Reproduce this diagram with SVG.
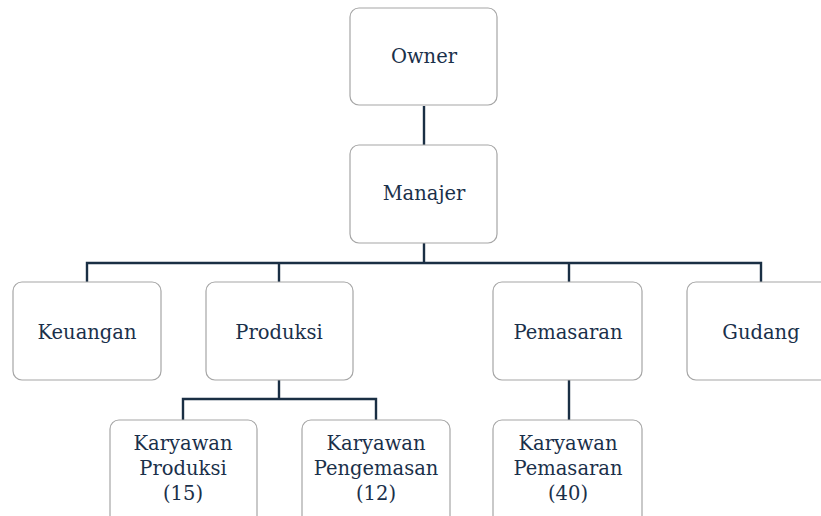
<svg xmlns="http://www.w3.org/2000/svg" width="821" height="516" viewBox="0 0 821 516">
<style>
.box{fill:#fff;stroke:#a6a6a6;stroke-width:1.2}
.t{font-family:'DejaVu Serif',serif;font-size:19.5px;fill:#1a304a;text-anchor:middle}
.c{fill:none;stroke:#1a2f44;stroke-width:2.4}
</style>
<rect width="821" height="516" fill="#fff"/>
<g id="connectors">
<path class="c" d="M424 106V145"/>
<path class="c" d="M424 243V263M87 282V263H761V282M279 263V282M569 263V282"/>
<path class="c" d="M279 380V399M183 420V399H376V420"/>
<path class="c" d="M569 380V420"/>
</g>
<g id="owner"><rect class="box" x="350" y="8" width="147" height="97" rx="9"/><text class="t" x="424" y="63">Owner</text></g>
<g id="manajer"><rect class="box" x="350" y="145" width="147" height="98" rx="9"/><text class="t" x="424" y="200">Manajer</text></g>
<g id="keuangan"><rect class="box" x="13" y="282" width="148" height="98" rx="9"/><text class="t" x="87" y="339">Keuangan</text></g>
<g id="produksi"><rect class="box" x="206" y="282" width="147" height="98" rx="9"/><text class="t" x="279" y="339">Produksi</text></g>
<g id="pemasaran"><rect class="box" x="493" y="282" width="149" height="98" rx="9"/><text class="t" x="568" y="339">Pemasaran</text></g>
<g id="gudang"><rect class="box" x="687" y="282" width="148" height="98" rx="9"/><text class="t" x="761" y="339">Gudang</text></g>
<g id="karyawan-produksi"><rect class="box" x="110" y="420" width="147" height="110" rx="9"/><text class="t" x="183" y="450">Karyawan</text><text class="t" x="183" y="475">Produksi</text><text class="t" x="183" y="500">(15)</text></g>
<g id="karyawan-pengemasan"><rect class="box" x="302" y="420" width="148" height="110" rx="9"/><text class="t" x="376" y="450">Karyawan</text><text class="t" x="376" y="475">Pengemasan</text><text class="t" x="376" y="500">(12)</text></g>
<g id="karyawan-pemasaran"><rect class="box" x="493" y="420" width="149" height="110" rx="9"/><text class="t" x="568" y="450">Karyawan</text><text class="t" x="568" y="475">Pemasaran</text><text class="t" x="568" y="500">(40)</text></g>
</svg>
